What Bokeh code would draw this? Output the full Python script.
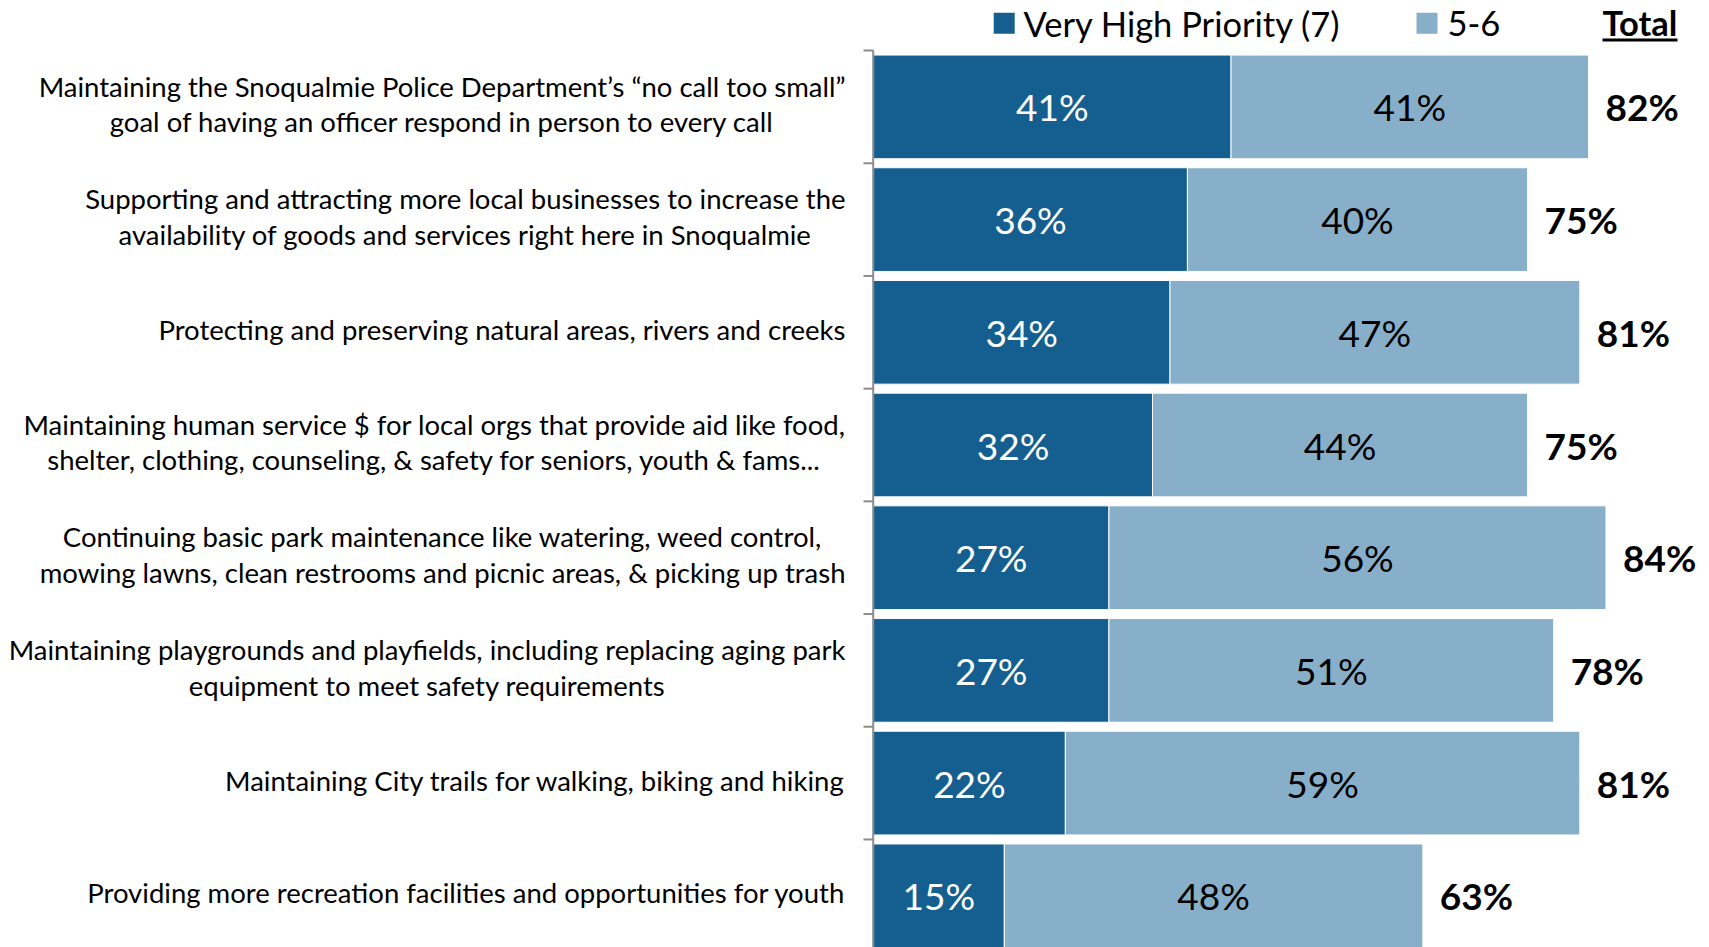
from bokeh.plotting import figure
from bokeh.models import Range1d, ColumnDataSource
from bokeh.core.properties import value
from bokeh.embed import file_html
from bokeh.resources import INLINE

# ---- data ----
categories = [
    "Maintaining the Snoqualmie Police Department\u2019s \u201cno call too small\u201d\ngoal of having an officer respond in person to every call",
    "Supporting and attracting more local businesses to increase the\navailability of goods and services right here in Snoqualmie",
    "Protecting and preserving natural areas, rivers and creeks",
    "Maintaining human service $ for local orgs that provide aid like food,\nshelter, clothing, counseling, & safety for seniors, youth & fams...",
    "Continuing basic park maintenance like watering, weed control,\nmowing lawns, clean restrooms and picnic areas, & picking up trash",
    "Maintaining playgrounds and playfields, including replacing aging park\nequipment to meet safety requirements",
    "Maintaining City trails for walking, biking and hiking",
    "Providing more recreation facilities and opportunities for youth",
]
very_high = [41, 36, 34, 32, 27, 27, 22, 15]
five_six = [41, 40, 47, 44, 56, 51, 59, 48]
totals = [82, 75, 81, 75, 84, 78, 81, 63]
series_names = ["Very High Priority (7)", "5-6"]
total_title = "Total"

DARK = "#145F90"
LIGHT = "#88AFC9"
FONT = "Lato"

W, H = 1709, 947
PX_PER_PCT = 8.72
PX_PER_ROW = 112.7
X0_REF = 873.0      # pixel of 0%
Y0_REF = 106.4      # pixel of first row centre
OFF = 0             # page offset of the canvas


def dx(px):
    return (px - X0_REF) / PX_PER_PCT


def dy(py):
    return (py - Y0_REF) / PX_PER_ROW


x_start = dx(OFF)
x_end = x_start + W / PX_PER_PCT
y_top = dy(OFF)
y_bot = y_top + H / PX_PER_ROW

p = figure(width=W, height=H, output_backend="svg", toolbar_location=None,
           x_range=Range1d(x_start, x_end), y_range=Range1d(y_bot, y_top),
           x_axis_type=None, y_axis_type=None, min_border=0)
p.xgrid.visible = False
p.ygrid.visible = False
p.outline_line_color = None
p.background_fill_color = "white"
p.border_fill_color = "white"

n = len(categories)
rows = list(range(n))
src = ColumnDataSource(dict(
    y=rows,
    cat=categories,
    vh=very_high,
    fs=five_six,
    tot=totals,
    vh_mid=[v / 2 for v in very_high],
    fs_mid=[(v + t) / 2 for v, t in zip(very_high, totals)],
    vh_lbl=[f"{v}%" for v in very_high],
    fs_lbl=[f"{v}%" for v in five_six],
    tot_lbl=[f"{t}%" for t in totals],
    tot_x=[t + 17 / PX_PER_PCT for t in totals],
    zero=[0] * n,
))

bar_h = 0.92
p.hbar(y="y", left="zero", right="vh", height=bar_h, source=src,
       fill_color=DARK, line_color="white", line_width=1)
p.hbar(y="y", left="vh", right="tot", height=bar_h, source=src,
       fill_color=LIGHT, line_color="white", line_width=1)

# value labels
p.text(x="vh_mid", y="y", text="vh_lbl", source=src, text_color="white",
       text_font=value(FONT), text_font_size="37px", text_align="center",
       text_baseline="middle")
p.text(x="fs_mid", y="y", text="fs_lbl", source=src, text_color="black",
       text_font=value(FONT), text_font_size="37px", text_align="center",
       text_baseline="middle")
p.text(x="tot_x", y="y", text="tot_lbl", source=src, text_color="black",
       text_font=value(FONT), text_font_size="37px", text_font_style="bold",
       text_align="left", text_baseline="middle")

# category labels (block right-aligned, lines centred)
p.text(x=dx(845), y="y", text="cat", source=src, text_color="black",
       text_font=value(FONT), text_font_size="27.5px", text_align="center",
       anchor="center_right", text_line_height=1.08, y_offset=-3)

# axis line with ticks between categories
axis_x = dx(872.7)
p.segment(x0=[axis_x], y0=[-0.5 - 0.3 / PX_PER_ROW], x1=[axis_x], y1=[n],
          line_color="#8C8C8C", line_width=2)
bounds = [i - 0.5 for i in range(n)]
p.segment(x0=[dx(863)] * n, y0=bounds, x1=[axis_x] * n, y1=bounds,
          line_color="#8C8C8C", line_width=2)

# legend
p.rect(x=[dx(1003.7), dx(1426.5)], y=[dy(22.8)] * 2,
       width=21 / PX_PER_PCT, height=21 / PX_PER_ROW,
       fill_color=[DARK, LIGHT], line_color=None)
p.text(x=[dx(1023), dx(1447)], y=[dy(23)] * 2, text=series_names,
       text_color="black", text_font=value(FONT), text_font_size="34.5px",
       text_align="left", text_baseline="middle")
p.text(x=[dx(1602)], y=[dy(22)], text=[total_title], text_color="black",
       text_font=value(FONT), text_font_size="34.5px", text_font_style="bold",
       text_align="left", text_baseline="middle")
p.segment(x0=[dx(1602)], y0=[dy(39.5)], x1=[dx(1677)], y1=[dy(39.5)],
          line_color="black", line_width=3)

open("out.html", "w").write(file_html(p, INLINE))
